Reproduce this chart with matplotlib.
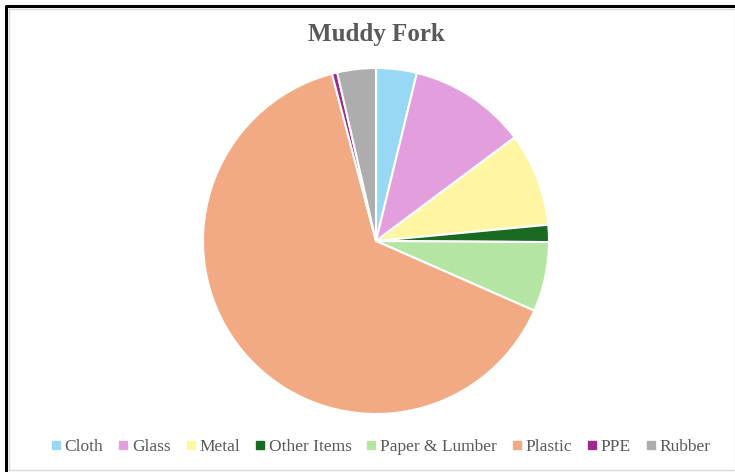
import matplotlib
matplotlib.use("Agg")
from matplotlib import pyplot as plt
from matplotlib.patches import Rectangle
from matplotlib.lines import Line2D

# Litter composition at Muddy Fork (percent of items)
categories = ["Cloth", "Glass", "Metal", "Other Items", "Paper & Lumber",
              "Plastic", "PPE", "Rubber"]
shares = [3.8, 11.0, 8.7, 1.6, 6.5, 64.3, 0.5, 3.6]
colors = ["#97D9F5", "#E39FDD", "#FFF5A3", "#1B6A22", "#B5E5A3",
          "#F2AA84", "#9B2B8F", "#ADADAD"]

plt.rcParams["font.family"] = ["Liberation Serif", "DejaVu Serif"]

W, H = 735, 472
fig = plt.figure(figsize=(W / 100, H / 100), dpi=100)
ax = fig.add_axes([0, 0, 1, 1])

# Outer frame: black on top/left, light grey chart border inside
ax.plot([6, 6, W], [0, H - 6, H - 6], color="black", lw=2.2,
        solid_capstyle="butt")
ax.add_patch(Rectangle((9, 2), W - 9, H - 11, fill=False,
                       edgecolor="#D9D9D9", lw=1))

ax.pie(shares, colors=colors, startangle=90, counterclock=False,
       center=(376, H - 241), radius=173, frame=True,
       wedgeprops=dict(edgecolor="white", linewidth=1.5))
ax.set_xlim(0, W)
ax.set_ylim(0, H)
ax.set_aspect("equal")
ax.axis("off")

ax.text(376, H - 35, "Muddy Fork", ha="center", va="center",
        fontsize=18, fontweight="bold", color="#595959")

handles = [Line2D([], [], marker="s", linestyle="none", markersize=5.5,
                  markerfacecolor=c, markeredgecolor=c) for c in colors]
fig.legend(handles, categories, loc="center", ncol=len(categories),
           bbox_to_anchor=(381 / W, 1 - 447 / H), frameon=False,
           fontsize=12.5, labelcolor="#595959", handlelength=0.5,
           handletextpad=0.25, columnspacing=0.9)

fig.savefig("out.png", dpi=100)
